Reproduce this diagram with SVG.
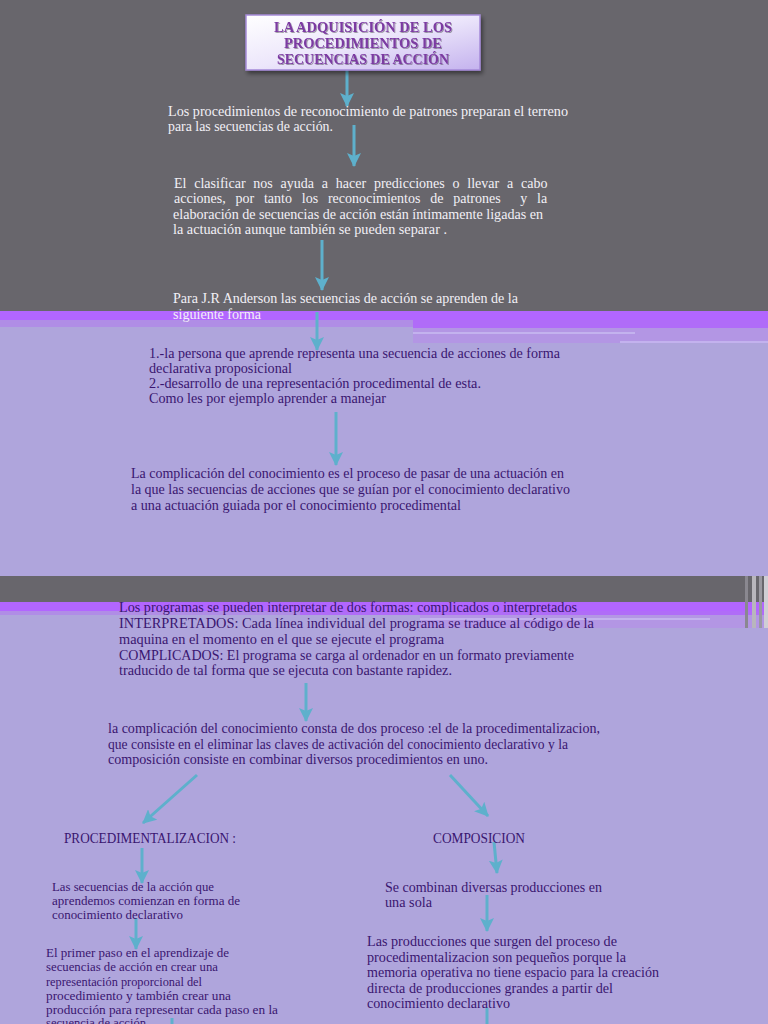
<svg xmlns="http://www.w3.org/2000/svg" width="768" height="1024" viewBox="0 0 768 1024">
<defs>
<linearGradient id="tg" x1="0" y1="0" x2="1" y2="1">
<stop offset="0" stop-color="#ffffff"/>
<stop offset="0.5" stop-color="#ece6fb"/>
<stop offset="1" stop-color="#c4b2ee"/>
</linearGradient>
<marker id="ah" markerUnits="userSpaceOnUse" markerWidth="16" markerHeight="14" refX="13" refY="7" orient="auto">
<path d="M0,0 L14,7 L0,14 L3,7 Z" fill="#5eb0cc"/>
</marker>
<filter id="sh" x="-10%" y="-10%" width="130%" height="140%">
<feDropShadow dx="2" dy="3" stdDeviation="2" flood-color="#000" flood-opacity="0.45"/>
</filter>
<filter id="ts" x="-5%" y="-20%" width="110%" height="150%">
<feDropShadow dx="1" dy="1" stdDeviation="0.6" flood-color="#000" flood-opacity="0.35"/>
</filter>
</defs>
<style>
.w{font-family:"Liberation Serif","DejaVu Serif",serif;font-size:14px;fill:#f2f0f6}
.p{font-family:"Liberation Serif","DejaVu Serif",serif;font-size:14px;fill:#3a1670}
.s{font-family:"Liberation Serif","DejaVu Serif",serif;font-size:13px;fill:#3a1670}
.t{font-family:"Liberation Serif","DejaVu Serif",serif;font-size:14px;font-weight:bold;fill:#7b3aa2;text-anchor:middle}
.c{stroke:#5eb0cc;stroke-width:3;fill:none;marker-end:url(#ah)}
</style>
<!-- background -->
<rect x="0" y="0" width="768" height="1024" fill="#afa5dc"/>
<rect x="0" y="0" width="768" height="311" fill="#68666c"/>
<rect x="0" y="311" width="768" height="9" fill="#b266ff"/>
<rect x="0" y="320" width="413" height="7" fill="#b08de6"/>
<rect x="413" y="320" width="355" height="8" fill="#b06cf8"/>
<rect x="413" y="328" width="355" height="15" fill="#b396e4"/>
<rect x="413" y="332" width="222" height="2" fill="#c3b2ee"/>
<rect x="620" y="341" width="148" height="2" fill="#c3b2ee"/>
<rect x="0" y="576" width="768" height="26" fill="#68666c"/>
<rect x="0" y="602" width="768" height="9" fill="#b266ff"/>
<rect x="0" y="611" width="300" height="4" fill="#b08de6"/>
<rect x="300" y="611" width="468" height="4" fill="#b06cf8"/>
<rect x="420" y="615" width="348" height="13" fill="#b396e4"/>
<rect x="420" y="618" width="290" height="2" fill="#c3b2ee"/>
<rect x="745" y="576" width="3" height="52" fill="#8a8890"/>
<rect x="752" y="576" width="4" height="52" fill="#b8b6bc"/>
<rect x="759" y="576" width="3" height="52" fill="#9a98a0"/>
<rect x="764" y="576" width="4" height="52" fill="#d0ced4"/>

<g id="connectors">
<line class="c" x1="347" y1="70" x2="347" y2="106"/>
<line class="c" x1="354" y1="125" x2="354" y2="166"/>
<line class="c" x1="322" y1="240" x2="322" y2="290"/>
<line class="c" x1="317" y1="312" x2="317" y2="350"/>
<line class="c" x1="336" y1="412" x2="336" y2="465"/>
<line class="c" x1="306" y1="683" x2="306" y2="721"/>
<line class="c" x1="197" y1="775" x2="143" y2="823"/>
<line class="c" x1="450" y1="775" x2="488" y2="816"/>
<line class="c" x1="142" y1="848" x2="142" y2="883"/>
<line class="c" x1="136" y1="918" x2="136" y2="949"/>
<line class="c" x1="494" y1="842" x2="497" y2="873"/>
<line class="c" x1="487" y1="895" x2="487" y2="931"/>
<line class="c" x1="487" y1="1008" x2="487" y2="1040"/>
<line class="c" x1="172" y1="1018" x2="172" y2="1040"/>
</g>

<g id="title">
<rect x="246" y="15" width="234" height="55" fill="url(#tg)" stroke="#a58ad8" stroke-width="1.5" filter="url(#sh)"/>
<g filter="url(#ts)">
<text class="t" x="363" y="32" textLength="178" lengthAdjust="spacingAndGlyphs">LA ADQUISICIÓN  DE LOS</text>
<text class="t" x="363" y="48" textLength="158" lengthAdjust="spacingAndGlyphs">PROCEDIMIENTOS DE</text>
<text class="t" x="363" y="64" textLength="172" lengthAdjust="spacingAndGlyphs">SECUENCIAS DE ACCIÓN</text>
</g>
</g>

<g id="n1">
<text class="w" x="168" y="116" textLength="400" lengthAdjust="spacingAndGlyphs">Los procedimientos de reconocimiento de patrones preparan el terreno</text>
<text class="w" x="168" y="131" textLength="165" lengthAdjust="spacingAndGlyphs">para las secuencias de acción.</text>
</g>

<g id="n2">
<text class="w" x="174" y="188" word-spacing="4.3">El clasificar nos ayuda a hacer predicciones o llevar a cabo</text>
<text class="w" x="174" y="203" word-spacing="6.3" xml:space="preserve">acciones, por tanto los reconocimientos de patrones  y la</text>
<text class="w" x="173" y="219" textLength="370" lengthAdjust="spacingAndGlyphs">elaboración de secuencias de acción están íntimamente ligadas en</text>
<text class="w" x="173" y="234" textLength="274" lengthAdjust="spacingAndGlyphs">la actuación aunque también se pueden separar .</text>
</g>

<g id="n3">
<text class="w" x="173" y="303" textLength="345" lengthAdjust="spacingAndGlyphs">Para J.R Anderson las secuencias de acción se aprenden de la</text>
<text class="w" x="173" y="319" textLength="88" lengthAdjust="spacingAndGlyphs">siguiente forma</text>
</g>

<g id="n4">
<text class="p" x="149" y="358" textLength="411" lengthAdjust="spacingAndGlyphs">1.-la persona que aprende representa una secuencia de acciones de forma</text>
<text class="p" x="149" y="373" textLength="143" lengthAdjust="spacingAndGlyphs">declarativa proposicional</text>
<text class="p" x="149" y="388" textLength="332" lengthAdjust="spacingAndGlyphs">2.-desarrollo de una representación procedimental de esta.</text>
<text class="p" x="149" y="403" textLength="237" lengthAdjust="spacingAndGlyphs">Como les por ejemplo aprender a manejar</text>
</g>

<g id="n5">
<text class="p" x="131" y="478" textLength="433" lengthAdjust="spacingAndGlyphs">La complicación del conocimiento es el proceso de pasar de una actuación en</text>
<text class="p" x="131" y="494" textLength="439" lengthAdjust="spacingAndGlyphs">la que las secuencias de acciones que se guían por el conocimiento declarativo</text>
<text class="p" x="131" y="510" textLength="330" lengthAdjust="spacingAndGlyphs">a una actuación guiada por el conocimiento procedimental</text>
</g>

<g id="n6">
<text class="p" x="119" y="612" textLength="458" lengthAdjust="spacingAndGlyphs">Los programas se pueden interpretar de dos formas: complicados o interpretados</text>
<text class="p" x="119" y="628" textLength="475" lengthAdjust="spacingAndGlyphs">INTERPRETADOS: Cada línea  individual  del programa  se traduce  al código  de  la</text>
<text class="p" x="119" y="644" textLength="325" lengthAdjust="spacingAndGlyphs">maquina  en el momento  en el que se ejecute el programa</text>
<text class="p" x="119" y="660" textLength="455" lengthAdjust="spacingAndGlyphs">COMPLICADOS: El programa  se carga al ordenador en un formato previamente</text>
<text class="p" x="119" y="675" textLength="333" lengthAdjust="spacingAndGlyphs">traducido  de tal forma que se ejecuta con bastante rapidez.</text>
</g>

<g id="n7">
<text class="p" x="108" y="733" textLength="492" lengthAdjust="spacingAndGlyphs"> la complicación del conocimiento consta de dos proceso :el de la procedimentalizacion,</text>
<text class="p" x="108" y="749" textLength="460" lengthAdjust="spacingAndGlyphs">que consiste en el eliminar las claves de activación del conocimiento declarativo y la</text>
<text class="p" x="108" y="764" textLength="380" lengthAdjust="spacingAndGlyphs">composición consiste en combinar diversos procedimientos en uno.</text>
</g>

<g id="n8">
<text class="p" x="64" y="843" textLength="172" lengthAdjust="spacingAndGlyphs">PROCEDIMENTALIZACION :</text>
</g>

<g id="n9">
<text class="p" x="433" y="843" textLength="92" lengthAdjust="spacingAndGlyphs">COMPOSICION</text>
</g>

<g id="n10">
<text class="s" x="52" y="891" textLength="162" lengthAdjust="spacingAndGlyphs">Las secuencias de la acción que</text>
<text class="s" x="52" y="905" textLength="188" lengthAdjust="spacingAndGlyphs">aprendemos comienzan en forma de</text>
<text class="s" x="52" y="919" textLength="131" lengthAdjust="spacingAndGlyphs">conocimiento declarativo</text>
</g>

<g id="n11">
<text class="s" x="46" y="957" textLength="183" lengthAdjust="spacingAndGlyphs">El primer paso en el aprendizaje de</text>
<text class="s" x="46" y="971" textLength="172" lengthAdjust="spacingAndGlyphs">secuencias de acción en crear una</text>
<text class="s" x="46" y="986" textLength="156" lengthAdjust="spacingAndGlyphs">representación proporcional del</text>
<text class="s" x="46" y="1000" textLength="185" lengthAdjust="spacingAndGlyphs">procedimiento y  también crear una</text>
<text class="s" x="46" y="1014" textLength="232" lengthAdjust="spacingAndGlyphs">producción para representar cada paso  en la</text>
<text class="s" x="46" y="1027" textLength="100" lengthAdjust="spacingAndGlyphs">secuencia de acción</text>
</g>

<g id="n12">
<text class="p" x="385" y="892" textLength="217" lengthAdjust="spacingAndGlyphs">Se combinan diversas producciones en</text>
<text class="p" x="385" y="907" textLength="47" lengthAdjust="spacingAndGlyphs">una sola</text>
</g>

<g id="n13">
<text class="p" x="367" y="946" textLength="250" lengthAdjust="spacingAndGlyphs">Las producciones que surgen del proceso  de</text>
<text class="p" x="367" y="962" textLength="259" lengthAdjust="spacingAndGlyphs">procedimentalizacion son pequeños porque la</text>
<text class="p" x="367" y="977" textLength="292" lengthAdjust="spacingAndGlyphs">memoria operativa no tiene espacio para la creación</text>
<text class="p" x="367" y="993" textLength="246" lengthAdjust="spacingAndGlyphs">directa de producciones grandes a partir del</text>
<text class="p" x="367" y="1008" textLength="143" lengthAdjust="spacingAndGlyphs">conocimiento declarativo</text>
</g>
</svg>
